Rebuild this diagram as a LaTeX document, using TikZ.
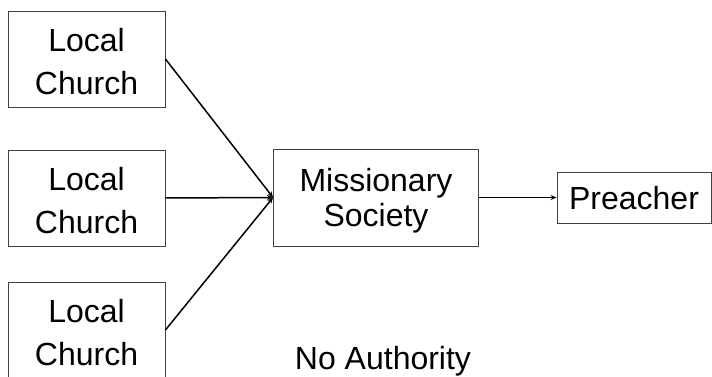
\documentclass[tikz,border=0pt]{standalone}
\usepackage{fontspec}
\setmainfont{Liberation Sans}
\usetikzlibrary{arrows.meta}
\begin{document}
\begin{tikzpicture}[x=1pt,y=1pt,
  boxstyle/.style={draw=black!75,line width=0.9pt,inner sep=0pt},
  txt/.style={font=\fontsize{32}{38}\selectfont,anchor=base,inner sep=0pt},
  conn/.style={line width=1.5pt,-{Stealth[length=6pt,width=5pt]}}]
\useasboundingbox (0,0) rectangle (712,377);
\clip (0,0) rectangle (712,377);
% boxes
\node[boxstyle,minimum width=157pt,minimum height=96pt] (lc1) at (86.5,318) {};
\node[boxstyle,minimum width=157pt,minimum height=96pt] (lc2) at (86.5,179) {};
\node[boxstyle,minimum width=157pt,minimum height=96pt] (lc3) at (86.5,47) {};
\node[boxstyle,minimum width=205pt,minimum height=97pt] (ms) at (376,179.5) {};
\node[boxstyle,minimum width=154pt,minimum height=51pt] (pr) at (634,179.5) {};
% texts
\node[txt] (t1a) at (86.5,325) {Local};
\node[txt] (t1b) at (86.5,282) {Church};
\node[txt] (t2a) at (86.5,186) {Local};
\node[txt] (t2b) at (86.5,143) {Church};
\node[txt] (t3a) at (86.5,54) {Local};
\node[txt] (t3b) at (86.5,11) {Church};
\node[txt] (tma) at (376,185) {Missionary};
\node[txt] (tmb) at (376,150) {Society};
\node[txt] (tp) at (634,167) {Preacher};
\node[txt] (na) at (383,7) {No Authority};
% connectors
\draw[conn] (lc1.east) -- (ms.west);
\draw[conn] (lc2.east) -- (ms.west);
\draw[conn] (lc3.east) -- (ms.west);
\draw[conn] (ms.east) -- (pr.west);
\end{tikzpicture}
\end{document}
